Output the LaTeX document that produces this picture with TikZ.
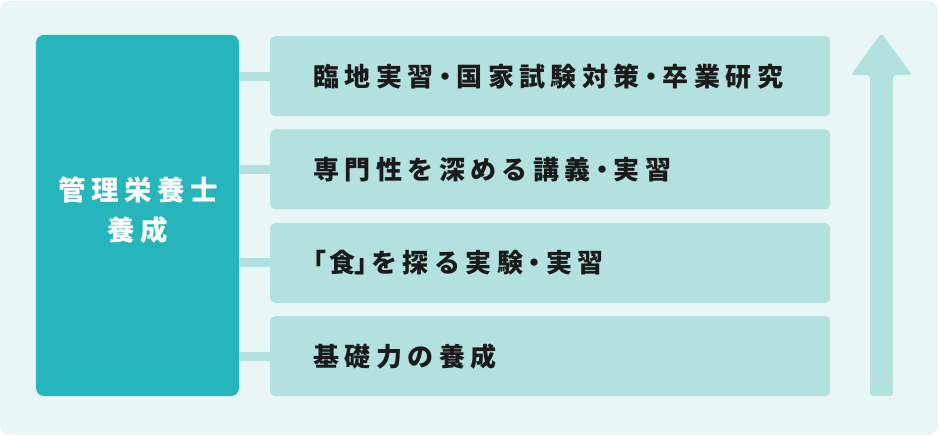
\documentclass[tikz,border=0pt]{standalone}
\usepackage{fontspec}
\newfontfamily\jpfont[LetterSpace=21]{Noto Sans CJK JP}
\newfontfamily\jppunct[LetterSpace=21,RawFeature=+palt]{Noto Sans CJK JP}
\newfontfamily\jptitle[LetterSpace=20]{Noto Sans CJK JP}
\newcommand{\pdot}{\hspace{5bp}{\jppunct ・}\hspace{5bp}}
\newcommand{\popen}{{\jppunct 「}\hspace{3bp}}
\newcommand{\pclose}{{\jppunct 」}\hspace{3bp}}
\definecolor{bgc}{HTML}{E8F7F5}
\definecolor{tealc}{HTML}{27B5BC}
\definecolor{barc}{HTML}{B3E1DF}
\definecolor{txtc}{HTML}{1A1A1A}
\tikzset{
  mainbox/.style={rectangle, rounded corners=8bp, fill=tealc, draw=none,
    minimum width=203bp, minimum height=361bp},
  maintext/.style={text=white, align=center, inner sep=0pt,
    font=\jptitle\bfseries\fontsize{27.5bp}{40bp}\selectfont},
  bar/.style={rectangle, rounded corners=5bp, fill=barc, draw=none, anchor=north west,
    minimum width=560bp, minimum height=80bp},
  bartext/.style={anchor=west, inner sep=0pt, text=txtc,
    font=\jpfont\bfseries\fontsize{26bp}{30bp}\selectfont},
  conn/.style={draw=barc, line width=9bp},
}
\begin{document}
\begin{tikzpicture}[x=1bp,y=-1bp]
\useasboundingbox (0,0) rectangle (940,436);
\fill[bgc, rounded corners=10bp] (0,1) rectangle (938,435);
\node[mainbox] (main) at (137.5,215.5) {};
\node[maintext] (mt) at (138,210.5) {管理栄養士\\養成};
\node[bar] (b1) at (270,36) {};
\node[bar] (b2) at (270,129.3) {};
\node[bar] (b3) at (270,222.7) {};
\node[bar] (b4) at (270,316) {};
\node[bartext] (t1) at ([xshift=43bp]b1.west) {臨地実習\pdot 国家試験対策\pdot 卒業研究};
\node[bartext] (t2) at ([xshift=43bp]b2.west) {専門性を深める講義\pdot 実習};
\node[bartext] (t3) at ([xshift=43bp]b3.west) {\popen 食\pclose を探る実験\pdot 実習};
\node[bartext] (t4) at ([xshift=43bp]b4.west) {基礎力の養成};
\foreach \b in {b1,b2,b3,b4} \draw[conn] (main.east |- \b.west) -- (\b.west);
\fill[barc, rounded corners=3bp] (870,396) -- (870,75) -- (851,75) -- (881.5,33) -- (912,75) -- (893,75) -- (893,396) -- cycle;
\end{tikzpicture}
\end{document}
